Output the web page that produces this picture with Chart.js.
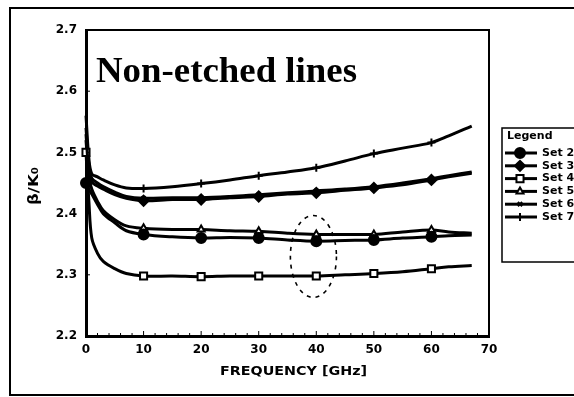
<!DOCTYPE html>
<html>
<head>
<meta charset="utf-8">
<script src="https://cdn.jsdelivr.net/npm/chart.js@4/dist/chart.umd.min.js"></script>
<style>
  html, body { margin: 0; padding: 0; background: #fff; }
  #wrap { width: 574px; height: 397px; position: relative; }
</style>
</head>
<body>
<div id="wrap"><canvas id="chart"></canvas></div>
<script>
// frequency samples in GHz
const freq = [0, 0.5, 1, 2, 3, 5, 7, 10, 15, 20, 25, 30, 35, 40, 45, 50, 55, 60, 63, 67];

// normalized propagation constant per measurement set
const set2 = [2.45, 2.44, 2.432, 2.415, 2.4, 2.385, 2.372, 2.366, 2.362, 2.36, 2.361, 2.36, 2.357, 2.355, 2.356, 2.357, 2.36, 2.362, 2.364, 2.365];
const set3 = [2.53, 2.47, 2.452, 2.445, 2.44, 2.431, 2.425, 2.421, 2.423, 2.423, 2.426, 2.428, 2.432, 2.434, 2.438, 2.442, 2.447, 2.455, 2.46, 2.466];
const set4 = [2.5, 2.42, 2.36, 2.335, 2.322, 2.31, 2.302, 2.298, 2.298, 2.297, 2.298, 2.298, 2.298, 2.298, 2.3, 2.302, 2.305, 2.31, 2.313, 2.315];
const set5 = [2.52, 2.46, 2.44, 2.42, 2.405, 2.39, 2.38, 2.376, 2.374, 2.374, 2.372, 2.371, 2.368, 2.366, 2.366, 2.366, 2.37, 2.373, 2.37, 2.368];
const set6 = [2.54, 2.48, 2.458, 2.45, 2.444, 2.435, 2.428, 2.425, 2.426, 2.426, 2.428, 2.431, 2.434, 2.437, 2.44, 2.444, 2.45, 2.457, 2.462, 2.468];
const set7 = [2.56, 2.49, 2.465, 2.46, 2.455, 2.447, 2.442, 2.441, 2.444, 2.449, 2.455, 2.462, 2.468, 2.475, 2.486, 2.498, 2.507, 2.516, 2.527, 2.543];

const setNames = ['Set 2', 'Set 3', 'Set 4', 'Set 5', 'Set 6', 'Set 7'];
const xTicks = [0, 10, 20, 30, 40, 50, 60, 70];
const yTicks = [2.2, 2.3, 2.4, 2.5, 2.6, 2.7];

const styles = [
  { pointStyle: 'circle', radius: 5, fill: '#000', showAtZero: true },
  { pointStyle: 'rectRot', radius: 5, fill: '#000', showAtZero: false },
  { pointStyle: 'rect', radius: 5, fill: '#fff', showAtZero: true },
  { pointStyle: 'triangle', radius: 4, fill: '#fff', showAtZero: false },
  { pointStyle: 'crossRot', radius: 3, fill: '#fff', showAtZero: false },
  { pointStyle: 'cross', radius: 4, fill: '#fff', showAtZero: false },
];

const series = [set2, set3, set4, set5, set6, set7];

function makeDataset(values, i) {
  const st = styles[i];
  return {
    label: setNames[i],
    data: freq.map((f, k) => ({ x: f, y: values[k] })),
    borderColor: '#000',
    backgroundColor: st.fill,
    borderWidth: 3,
    tension: 0.35,
    clip: false,
    pointStyle: st.pointStyle,
    pointBorderColor: '#000',
    pointBorderWidth: 2,
    pointRadius: ctx => {
      const f = freq[ctx.dataIndex];
      if (f === 0) return st.showAtZero ? st.radius : 0;
      return f % 10 === 0 ? st.radius : 0;
    },
  };
}

const FONT = '"DejaVu Sans", "Liberation Sans", sans-serif';

// draw text squeezed or stretched to a given width
function fillFit(ctx, text, x, y, width) {
  const w = ctx.measureText(text).width;
  ctx.save();
  ctx.translate(x, y);
  ctx.scale(width / w, 1);
  ctx.fillText(text, 0, 0);
  ctx.restore();
}

const decor = {
  id: 'decor',
  beforeDraw(chart) {
    const ctx = chart.ctx;
    ctx.save();
    ctx.fillStyle = '#fff';
    ctx.fillRect(0, 0, chart.width, chart.height);
    // outer figure frame
    ctx.strokeStyle = '#000';
    ctx.lineWidth = 2;
    ctx.beginPath();
    ctx.moveTo(chart.width + 2, 8);
    ctx.lineTo(10, 8);
    ctx.lineTo(10, 395);
    ctx.lineTo(chart.width + 2, 395);
    ctx.stroke();
    ctx.restore();
  },
  afterDraw(chart) {
    const ctx = chart.ctx;
    const a = chart.chartArea;
    const xs = chart.scales.x, ys = chart.scales.y;
    ctx.save();
    ctx.strokeStyle = '#000';
    ctx.fillStyle = '#000';

    // top and right edges of the plot box
    ctx.lineWidth = 2;
    ctx.beginPath();
    ctx.moveTo(a.left, a.top);
    ctx.lineTo(a.right, a.top);
    ctx.lineTo(a.right, a.bottom);
    ctx.stroke();

    // inward minor ticks along the frequency axis
    ctx.lineWidth = 1;
    for (let f = 2; f < 70; f += 2) {
      const px = xs.getPixelForValue(f);
      const len = f % 10 === 0 ? 5 : 3;
      ctx.beginPath();
      ctx.moveTo(px, a.bottom);
      ctx.lineTo(px, a.bottom - len);
      ctx.stroke();
    }
    for (let v = 2.3; v < 2.69; v += 0.1) {
      const py = ys.getPixelForValue(v);
      ctx.beginPath();
      ctx.moveTo(a.left, py);
      ctx.lineTo(a.left + 4, py);
      ctx.stroke();
    }

    // dashed ellipse around the 40 GHz points
    const cx = xs.getPixelForValue(39.5);
    const cy = ys.getPixelForValue(2.33);
    const rx = xs.getPixelForValue(43.5) - cx;
    const ry = cy - ys.getPixelForValue(2.397);
    ctx.lineWidth = 1.6;
    ctx.setLineDash([4, 5]);
    ctx.beginPath();
    ctx.ellipse(cx, cy, rx, ry, 0, 0, Math.PI * 2);
    ctx.stroke();
    ctx.setLineDash([]);

    // title inside the plot
    ctx.font = 'bold 36px "Liberation Serif", "DejaVu Serif", serif';
    ctx.textAlign = 'left';
    ctx.textBaseline = 'alphabetic';
    fillFit(ctx, 'Non-etched lines', 96, 82, 261);

    // axis titles
    ctx.font = 'bold 13px ' + FONT;
    ctx.textBaseline = 'middle';
    fillFit(ctx, 'FREQUENCY [GHz]', 220, 372, 147);
    ctx.font = 'bold 14px ' + FONT;
    ctx.save();
    ctx.translate(34, 205);
    ctx.rotate(-Math.PI / 2);
    fillFit(ctx, '\u03B2/K\u2080', 0, 0, 38);
    ctx.restore();

    // legend box, running past the right edge
    const lx = 502, ly = 128;
    ctx.lineWidth = 1.5;
    ctx.strokeRect(lx, ly, 120, 134);
    ctx.font = 'bold 11px ' + FONT;
    ctx.textAlign = 'left';
    ctx.fillText('Legend', lx + 5, ly + 8);
    setNames.forEach((name, i) => {
      const y = 153 + i * 12.8;
      const st = styles[i];
      ctx.lineWidth = 3;
      ctx.beginPath();
      ctx.moveTo(lx + 3, y);
      ctx.lineTo(lx + 35, y);
      ctx.stroke();
      ctx.fillStyle = st.fill;
      ctx.lineWidth = 2;
      Chart.helpers.drawPoint(ctx, { pointStyle: st.pointStyle, radius: st.radius, rotation: 0, borderWidth: 2 }, lx + 18, y);
      ctx.fillStyle = '#000';
      ctx.fillText(name, lx + 40, y);
    });
    ctx.restore();
  }
};

new Chart(document.getElementById('chart'), {
  type: 'line',
  data: { datasets: series.map(makeDataset) },
  options: {
    responsive: true,
    maintainAspectRatio: false,
    animation: false,
    layout: { padding: { left: 0, top: 30, right: 85, bottom: 0 } },
    plugins: { legend: { display: false }, tooltip: { enabled: false } },
    scales: {
      x: {
        type: 'linear',
        min: 0,
        max: 70,
        afterBuildTicks: s => { s.ticks = xTicks.map(v => ({ value: v })); },
        afterFit: s => { s.height = 61; },
        grid: { drawOnChartArea: false, drawTicks: false },
        border: { color: '#000', width: 3 },
        ticks: { color: '#000', padding: 7, font: { family: FONT, size: 12, weight: 'bold' } },
      },
      y: {
        min: 2.2,
        max: 2.7,
        afterBuildTicks: s => { s.ticks = yTicks.map(v => ({ value: v })); },
        afterFit: s => { s.width = 86; },
        grid: { drawOnChartArea: false, drawTicks: false },
        border: { color: '#000', width: 3 },
        ticks: {
          color: '#000',
          padding: 9,
          font: { family: FONT, size: 12, weight: 'bold' },
          callback: v => v.toFixed(1),
        },
      },
    },
  },
  plugins: [decor],
});
</script>
</body>
</html>
